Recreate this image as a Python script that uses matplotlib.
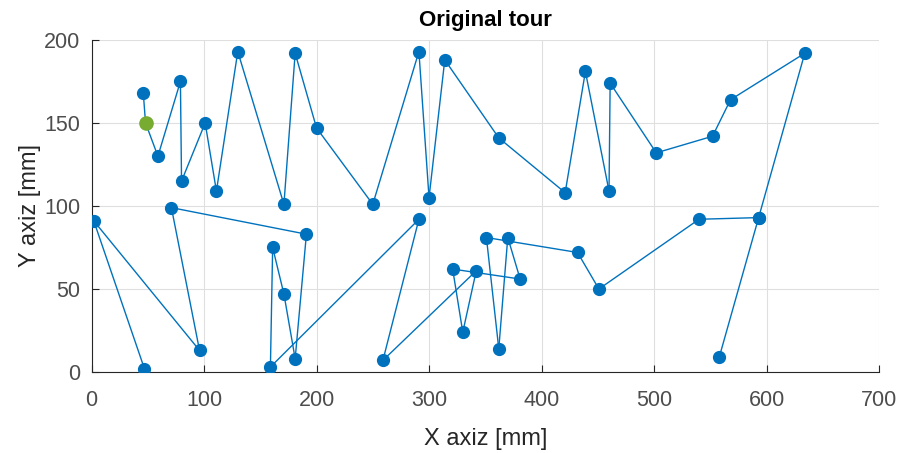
import matplotlib
matplotlib.use("Agg")
import matplotlib.pyplot as plt
from matplotlib.collections import LineCollection

# City coordinates in visiting order [mm]
tour_x = [46, 48, 59, 79, 80, 101, 111, 130, 171, 181, 200, 250, 291, 300, 314,
          362, 421, 439, 460, 461, 502, 552, 568, 634, 593, 558, 593, 540, 451, 432,
          351, 362, 370, 381, 321, 330, 342, 259, 291, 159, 161, 171, 181, 191,
          71, 96, 2, 47]
tour_y = [168, 150, 130, 175, 115, 150, 109, 193, 101, 192, 147, 101, 193, 105, 188,
          141, 108, 181, 109, 174, 132, 142, 164, 192, 93, 9, 93, 92, 50, 72,
          81, 14, 81, 56, 62, 24, 61, 7, 92, 3, 75, 47, 8, 83,
          99, 13, 91, 2]

# Starting city
start_x = [48]
start_y = [150]

x_ticks = [0, 100, 200, 300, 400, 500, 600, 700]
y_ticks = [0, 50, 100, 150, 200]

plt.rcParams['font.family'] = ['Liberation Sans', 'DejaVu Sans']

fig = plt.figure(figsize=(9.01, 4.53), dpi=100)
ax = fig.add_axes([0.1016, 0.1788, 0.874, 0.733])

# Tour legs; a leg travelled twice (there and back) is stroked only once
pts = list(zip(tour_x, tour_y))
legs, seen = [], set()
for p, q in zip(pts[:-1], pts[1:]):
    key = tuple(sorted((p, q)))
    if key not in seen:
        seen.add(key)
        legs.append([p, q])
ax.add_collection(LineCollection(legs, colors='#0072BD', linewidths=1.0,
                                 capstyle='round', zorder=3))
ax.plot(tour_x, tour_y, 'o', linestyle='none', markersize=8.5,
        markerfacecolor='#0072BD', markeredgecolor='#0072BD', zorder=3)
ax.plot(start_x, start_y, 'o', color='#77AC30', markersize=9.5, zorder=4)

ax.set_xlim(0, 700)
ax.set_ylim(0, 200)
ax.set_xticks(x_ticks)
ax.set_yticks(y_ticks)

ax.grid(True, color='#DFDFDF', linewidth=0.8)
ax.set_axisbelow(True)
for side in ('top', 'right'):
    ax.spines[side].set_visible(False)
for side in ('left', 'bottom'):
    ax.spines[side].set_color('#262626')
    ax.spines[side].set_linewidth(0.8)
ax.tick_params(direction='in', length=5, width=0.8, colors='#262626',
               labelsize=15.5)
ax.tick_params(axis='x', pad=13)
ax.tick_params(axis='y', pad=8)
for lbl in ax.get_xticklabels() + ax.get_yticklabels():
    lbl.set_color('#4d4d4d')

ax.set_xlabel('X axiz [mm]', fontsize=17, color='#262626', labelpad=12)
ax.set_ylabel('Y axiz [mm]', fontsize=17, color='#262626', labelpad=2)
ax.set_title('Original tour', fontsize=16, fontweight='bold', color='black', pad=10)

fig.savefig('out.png', dpi=100)
